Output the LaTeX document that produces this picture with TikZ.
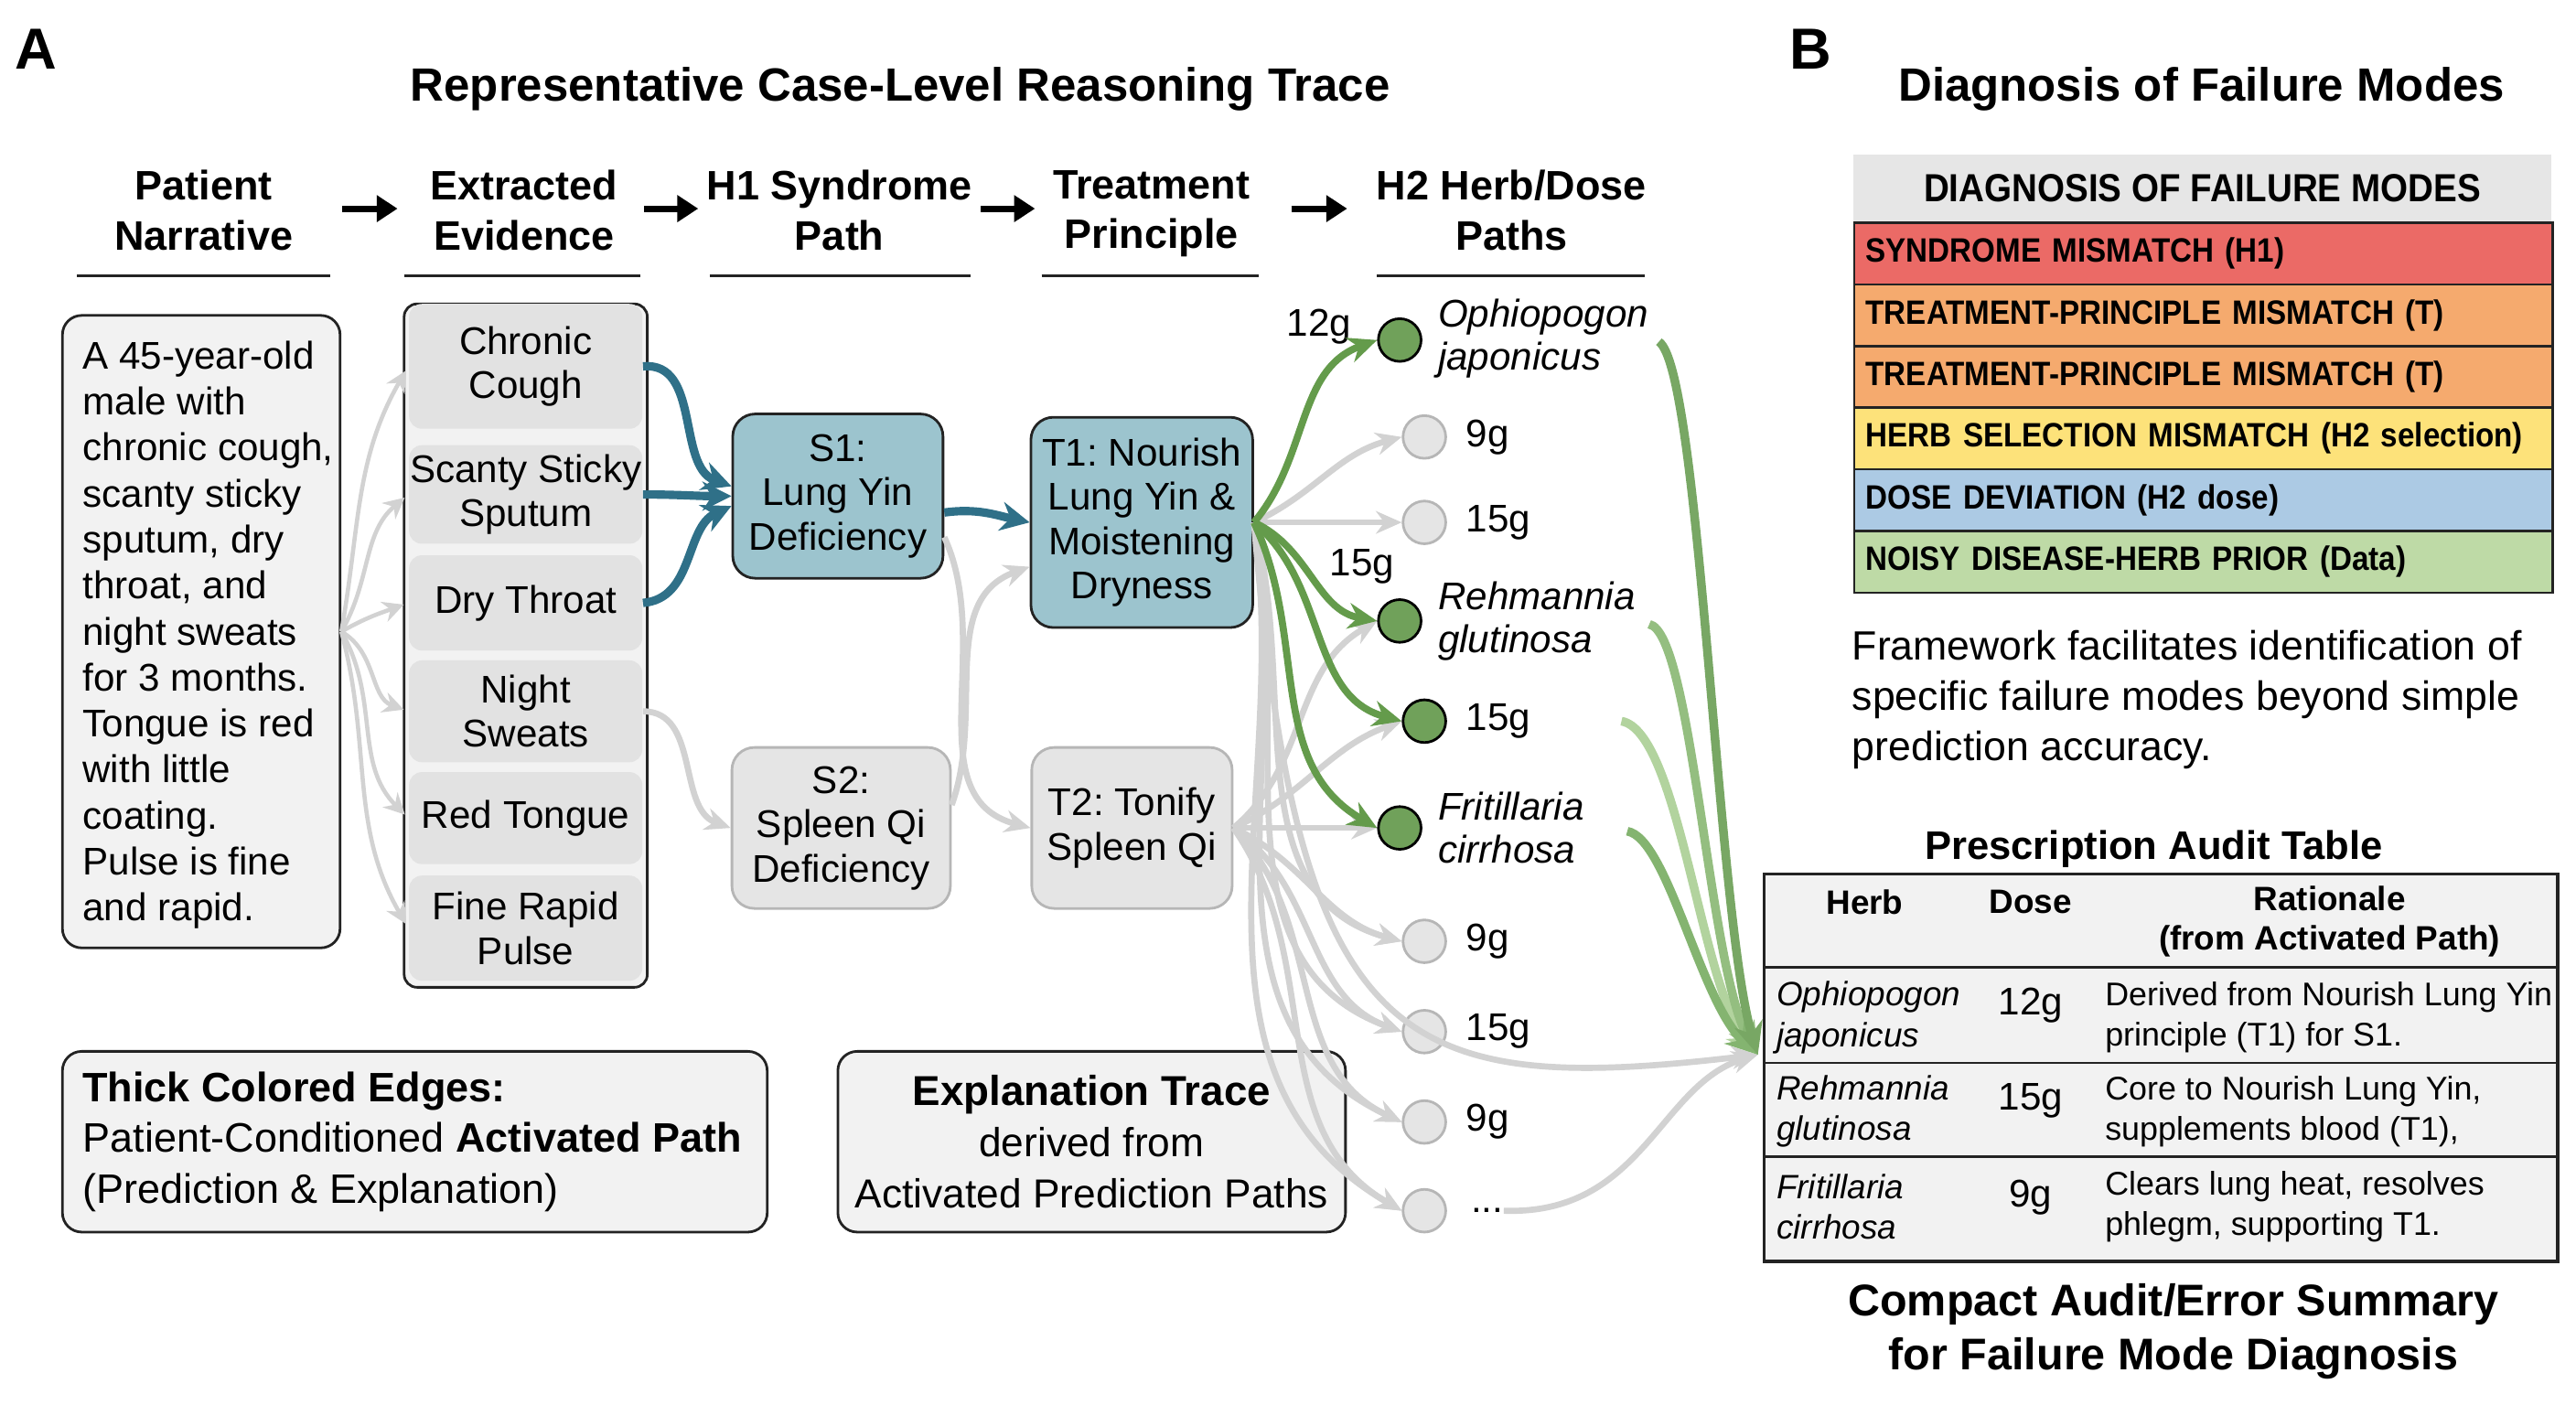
\documentclass[tikz,border=0pt]{standalone}
\usepackage{fontspec}
\setmainfont{Liberation Sans}
\newfontfamily\condfont[FakeStretch=0.9]{Liberation Sans}
\usetikzlibrary{arrows.meta,calc}
\frenchspacing
\definecolor{tealfill}{RGB}{156,196,206}
\definecolor{tealedge}{RGB}{47,112,136}
\definecolor{grayedge}{RGB}{210,210,210}
\definecolor{boxfill}{RGB}{242,242,242}
\definecolor{cellfill}{RGB}{226,226,226}
\definecolor{inactfill}{RGB}{229,229,229}
\definecolor{inactdraw}{RGB}{182,182,182}
\definecolor{darkline}{RGB}{35,35,35}
\definecolor{herbgreen}{RGB}{112,161,90}
\definecolor{edgegreen}{RGB}{100,155,75}
\definecolor{grnA}{RGB}{120,167,100}
\definecolor{grnB}{RGB}{148,190,128}
\definecolor{grnC}{RGB}{178,211,158}
\definecolor{grnD}{RGB}{132,180,112}
\definecolor{fmred}{RGB}{235,106,102}
\definecolor{fmorange}{RGB}{245,170,110}
\definecolor{fmyellow}{RGB}{253,226,122}
\definecolor{fmblue}{RGB}{172,202,228}
\definecolor{fmgreen}{RGB}{190,218,166}
\definecolor{fmhead}{RGB}{230,230,230}
\newcommand{\setfs}[2]{\fontsize{#1}{#2}\selectfont}
\def\myu{0.01796cm}
\tikzset{
  bigbox/.style={draw=darkline, line width=0.8pt, rounded corners=6pt, fill=boxfill, inner sep=0pt},
  evcell/.style={fill=cellfill, rounded corners=4pt, minimum width=142*\myu, align=center, font={\setfs{12}{13.8}}, inner sep=0pt},
  actbox/.style={draw=darkline, line width=0.8pt, rounded corners=7pt, fill=tealfill, align=center, font={\setfs{12}{13.8}}, inner sep=0pt},
  inactbox/.style={draw=inactdraw, line width=0.8pt, rounded corners=7pt, fill=inactfill, align=center, font={\setfs{12}{13.8}}, inner sep=0pt},
  hdr/.style={font={\bfseries\setfs{12.8}{15.5}}, align=center},
  hdrarrow/.style={-{Triangle[length=6.5pt,width=8pt]}, line width=2pt, draw=black},
  uline/.style={line width=0.7pt, draw=darkline},
  fanarrow/.style={draw=grayedge, line width=1.3pt, -{Stealth[length=6.5pt,width=6.5pt]}},
  tealarrow/.style={draw=tealedge, line width=2.6pt, -{Stealth[length=9pt,width=9pt]}},
  grayarrow/.style={draw=grayedge, line width=1.9pt, -{Stealth[length=8pt,width=7pt]}},
  greenarrow/.style={draw=edgegreen, line width=2.2pt, -{Stealth[length=9pt,width=8pt]}},
  auditarrow/.style={line width=2.7pt, -{Stealth[length=10pt,width=9pt]}},
  herbon/.style={circle, draw=black, line width=0.8pt, fill=herbgreen, minimum size=26*\myu, inner sep=0pt},
  herboff/.style={circle, draw=inactdraw, line width=0.8pt, fill=inactfill, minimum size=26*\myu, inner sep=0pt},
  herblab/.style={anchor=west, align=left, font={\itshape\setfs{12}{13.4}}, inner sep=0pt},
  gramlab/.style={anchor=west, font={\setfs{12}{13.4}}, inner sep=0pt},
  fmrow/.style={draw=darkline, line width=0.7pt, minimum width=425*\myu, minimum height=37.5*\myu, inner xsep=7*\myu, inner ysep=0pt, text width=411*\myu, align=left, anchor=north west, font={\condfont\bfseries\setfs{10.5}{12}}},
  audtxt/.style={anchor=west, align=left, font={\setfs{10.2}{12.6}}, inner sep=0pt},
  audherb/.style={anchor=west, align=left, font={\itshape\setfs{10.5}{12.6}}, inner sep=0pt},
  auddose/.style={font={\setfs{12}{13}}, inner sep=0pt},
}
\begin{document}
\begin{tikzpicture}[x=0.01796cm, y=-0.01796cm]
\fill[white] (0,0) rectangle (1568,855);
\useasboundingbox (0,0) rectangle (1568,855);

% ---------- Titles ----------
\node[font={\bfseries\setfs{18}{20}}] (labA) at (22,30) {A};
\node[font={\bfseries\setfs{14.5}{17}}] (titleA) at (548,54) {Representative Case-Level Reasoning Trace};
\node[font={\bfseries\setfs{18}{20}}] (labB) at (1102,30) {B};
\node[font={\bfseries\setfs{14.5}{17}}] (titleB) at (1340,54) {Diagnosis of Failure Modes};

% ---------- Column headers ----------
\node[hdr] (h1) at (124,128) {Patient\\Narrative};
\node[hdr] (h2) at (319,128) {Extracted\\Evidence};
\node[hdr] (h3) at (511,128) {H1 Syndrome\\Path};
\node[hdr] (h4) at (701,130) {Treatment\\Principle};
\node[hdr] (h5) at (920,128) {H2 Herb/Dose\\Paths};
\coordinate (a1s) at (208,127); \coordinate (a1e) at (242,127);
\coordinate (a2s) at (392,127); \coordinate (a2e) at (425,127);
\coordinate (a3s) at (597,127); \coordinate (a3e) at (630,127);
\coordinate (a4s) at (786,127); \coordinate (a4e) at (820,127);
\draw[hdrarrow] (a1s) -- (a1e);
\draw[hdrarrow] (a2s) -- (a2e);
\draw[hdrarrow] (a3s) -- (a3e);
\draw[hdrarrow] (a4s) -- (a4e);
\draw[uline] (47,168) -- (201,168);
\draw[uline] (246,168) -- (390,168);
\draw[uline] (432,168) -- (591,168);
\draw[uline] (634,168) -- (766,168);
\draw[uline] (838,168) -- (1001,168);

% ---------- Patient narrative ----------
\node[bigbox, minimum width=169*\myu, minimum height=385*\myu] (narr) at (122.5,384.5) {};
\node[anchor=west, align=left, font={\setfs{12}{14.3}}, inner sep=0pt] (narrtxt) at (50,386.5)
 {A 45-year-old\\male with\\chronic cough,\\scanty sticky\\sputum, dry\\throat, and\\night sweats\\for 3 months.\\Tongue is red\\with little\\coating.\\Pulse is fine\\and rapid.};

% ---------- Evidence ----------
\node[bigbox, rounded corners=4pt, fill=boxfill, minimum width=148*\myu, minimum height=416*\myu] (evbox) at (320,393) {};
\node[evcell, minimum height=76*\myu] (ev1) at (320,223) {Chronic\\Cough};
\node[evcell, minimum height=60*\myu] (ev2) at (320,301) {Scanty Sticky\\Sputum};
\node[evcell, minimum height=58*\myu] (ev3) at (320,367) {Dry Throat};
\node[evcell, minimum height=62*\myu] (ev4) at (320,433) {Night\\Sweats};
\node[evcell, minimum height=56*\myu] (ev5) at (320,498) {Red Tongue};
\node[evcell, minimum height=64*\myu] (ev6) at (320,565) {Fine Rapid\\Pulse};

% ---------- Syndrome / principle boxes ----------
\node[actbox, minimum width=128*\myu, minimum height=100*\myu] (S1) at (510,302) {S1:\\Lung Yin\\Deficiency};
\node[inactbox, minimum width=133*\myu, minimum height=98*\myu] (S2) at (512,504) {S2:\\Spleen Qi\\Deficiency};
\node[actbox, minimum width=135*\myu, minimum height=128*\myu] (T1) at (695,318) {T1: Nourish\\Lung Yin \&\\Moistening\\Dryness};
\node[inactbox, minimum width=122*\myu, minimum height=98*\myu] (T2) at (689,504) {T2: Tonify\\Spleen Qi};

% ---------- Herb / dose nodes ----------
\node[herbon] (oph) at (852,207) {};
\node[herblab] (ophlab) at (875,206) {Ophiopogon\\japonicus};
\node[herboff] (g9a) at (867,266) {};
\node[gramlab] (g9alab) at (892,266) {9g};
\node[herboff] (g15a) at (867,318) {};
\node[gramlab] (g15alab) at (892,318) {15g};
\node[herbon] (rehm) at (852,378) {};
\node[herblab] (rehmlab) at (875,378) {Rehmannia\\glutinosa};
\node[herbon] (g15b) at (867,439) {};
\node[gramlab] (g15blab) at (892,439) {15g};
\node[herbon] (frit) at (852,504) {};
\node[herblab] (fritlab) at (875,504) {Fritillaria\\cirrhosa};
\node[herboff] (g9b) at (867,573) {};
\node[gramlab] (g9blab) at (892,573) {9g};
\node[herboff] (g15c) at (867,628) {};
\node[gramlab] (g15clab) at (892,628) {15g};
\node[herboff] (g9c) at (867,683) {};
\node[gramlab] (g9clab) at (892,683) {9g};
\node[herboff] (gdots) at (867,737) {};
\node[gramlab] (gdotslab) at (895,737) {...};
\node[font={\setfs{12}{13}}] (lab12) at (803,199) {12g};
\node[font={\setfs{12}{13}}] (lab15) at (829,345) {15g};

% ---------- Bottom-left boxes ----------
\node[bigbox, minimum width=429*\myu, minimum height=110*\myu] (legend) at (252.5,695) {};
\node[anchor=west, align=left, font={\setfs{12.8}{15.8}}, inner sep=0pt] (legendtxt) at (50,695)
 {\textbf{Thick Colored Edges:}\\Patient-Conditioned \textbf{Activated Path}\\(Prediction \& Explanation)};
\node[bigbox, minimum width=309*\myu, minimum height=110*\myu, align=center, font={\setfs{12.6}{15.8}}] (explbox) at (664.5,695)
 {{\bfseries\setfs{13}{15.8}Explanation Trace}\\derived from\\Activated Prediction Paths};

% ---------- Panel B: failure modes ----------
\node[fill=fmhead, minimum width=425*\myu, minimum height=41*\myu, inner sep=0pt, font={\condfont\bfseries\setfs{12.2}{13.5}}] (fmh) at (1340.5,114.5) {DIAGNOSIS OF FAILURE MODES};
\node[fmrow, fill=fmred] (fm1) at (1128,135) {SYNDROME MISMATCH (H1)};
\node[fmrow, fill=fmorange] (fm2) at (1128,172.5) {TREATMENT-PRINCIPLE MISMATCH (T)};
\node[fmrow, fill=fmorange] (fm3) at (1128,210) {TREATMENT-PRINCIPLE MISMATCH (T)};
\node[fmrow, fill=fmyellow] (fm4) at (1128,247.5) {HERB SELECTION MISMATCH (H2 selection)};
\node[fmrow, fill=fmblue] (fm5) at (1128,285) {DOSE DEVIATION (H2 dose)};
\node[fmrow, fill=fmgreen] (fm6) at (1128,322.5) {NOISY DISEASE-HERB PRIOR (Data)};

\node[anchor=west, align=left, font={\setfs{12.7}{15.6}}, inner sep=0pt] (frame) at (1127,426)
 {Framework facilitates identification of\\specific failure modes beyond simple\\prediction accuracy.};

% ---------- Audit table ----------
\node[font={\bfseries\setfs{12.4}{14}}] (audtitle) at (1311,517) {Prescription Audit Table};
\node[draw=darkline, line width=0.9pt, fill=boxfill, minimum width=483*\myu, minimum height=236*\myu, anchor=north west, inner sep=0pt] (audit) at (1073,531) {};
\draw[line width=0.8pt, darkline] (1073,589) -- (1556,589);
\draw[line width=0.8pt, darkline] (1073,647) -- (1556,647);
\draw[line width=0.8pt, darkline] (1073,704) -- (1556,704);
\node[font={\bfseries\setfs{10.5}{12.3}}] (thherb) at (1135,549) {Herb};
\node[font={\bfseries\setfs{10.5}{12.3}}] (thdose) at (1236,549) {Dose};
\node[font={\bfseries\setfs{10.5}{12.3}}, align=center] (thrat) at (1418,561) {Rationale\\(from Activated Path)};
\node[audherb] (r1h) at (1081,619.5) {Ophiopogon\\japonicus};
\node[auddose] (r1d) at (1236,612) {12g};
\node[audtxt] (r1r) at (1281,619.5) {Derived from Nourish Lung Yin\\principle (T1) for S1.};
\node[audherb] (r2h) at (1081,676.5) {Rehmannia\\glutinosa};
\node[auddose] (r2d) at (1236,670) {15g};
\node[audtxt] (r2r) at (1281,676.5) {Core to Nourish Lung Yin,\\supplements blood (T1),};
\node[audherb] (r3h) at (1081,734.5) {Fritillaria\\cirrhosa};
\node[auddose] (r3d) at (1236,729) {9g};
\node[audtxt] (r3r) at (1281,734.5) {Clears lung heat, resolves\\phlegm, supporting T1.};
\node[font={\bfseries\setfs{13.8}{16.9}}, align=center] (summary) at (1323,810.5) {Compact Audit/Error Summary\\for Failure Mode Diagnosis};
\coordinate (audin) at (1070,642);

% ---------- Edges: narrative fan ----------
\draw[fanarrow, shorten >=3*\myu] (narr.east) to[out=80,in=240] (ev1.west);
\draw[fanarrow, shorten >=3*\myu] (narr.east) to[out=60,in=220] (ev2.west);
\draw[fanarrow, shorten >=3*\myu] (narr.east) to[out=30,in=200] (ev3.west);
\draw[fanarrow, shorten >=3*\myu] (narr.east) to[out=-30,in=160] (ev4.west);
\draw[fanarrow, shorten >=3*\myu] (narr.east) to[out=-60,in=135] (ev5.west);
\draw[fanarrow, shorten >=3*\myu] (narr.east) to[out=-75,in=120] (ev6.west);

% ---------- Gray inactive edges ----------
\draw[grayarrow] (ev4.east) to[out=0,in=160] (S2.west);
\draw[grayarrow] ($(S1.east)+(0,25)$) to[out=-65,in=165] (T2.west);
\draw[grayarrow] ($(S2.east)+(0,-14)$) to[out=70,in=200] ($(T1.west)+(0,27)$);

\draw[grayarrow] (T1.east) to[out=25,in=195] (g9a.west);
\draw[grayarrow] (T1.east) to[out=0,in=180] (g15a.west);
\draw[grayarrow] (T1.east) to[out=-75,in=165] (g9b.west);
\draw[grayarrow] (T1.east) to[out=-78,in=160] (g15c.west);
\draw[grayarrow] (T1.east) to[out=-80,in=155] (g9c.west);
\draw[grayarrow] (T1.east) to[out=-82,in=150] (gdots.west);

\draw[grayarrow] (T2.east) to[out=40,in=210] (rehm.west);
\draw[grayarrow] (T2.east) to[out=25,in=200] (g15b.west);
\draw[grayarrow] (T2.east) to[out=0,in=180] (frit.west);
\draw[grayarrow] (T2.east) to[out=-25,in=165] (g9b.west);
\draw[grayarrow] (T2.east) to[out=-35,in=160] (g15c.west);
\draw[grayarrow] (T2.east) to[out=-45,in=155] (g9c.west);
\draw[grayarrow] (T2.east) to[out=-55,in=150] (gdots.west);

\draw[grayarrow] (T1.east) .. controls (790,640) and (850,668) .. (audin);
\draw[grayarrow] (gdotslab.east) .. controls (1000,740) and (1010,660) .. (audin);

% ---------- Green active edges ----------
\draw[greenarrow] (T1.east) to[out=50,in=200] (oph.west);
\draw[greenarrow] (T1.east) to[out=-25,in=170] (rehm.west);
\draw[greenarrow] (T1.east) to[out=-40,in=165] (g15b.west);
\draw[greenarrow] (T1.east) to[out=-65,in=150] (frit.west);

\draw[auditarrow, draw=grnC] ($(g15blab.east)+(55,0)$) .. controls (1022,445) and (1035,600) .. (audin);
\draw[auditarrow, draw=grnB] ($(rehmlab.east)+(8,2)$) .. controls (1030,385) and (1040,590) .. (audin);
\draw[auditarrow, draw=grnD] ($(fritlab.east)+(26,2)$) .. controls (1015,510) and (1035,610) .. (audin);
\draw[auditarrow, draw=grnA] ($(ophlab.east)+(6,2)$) .. controls (1035,225) and (1045,560) .. (audin);

% ---------- Teal active edges ----------
\draw[tealarrow] (ev1.east) to[out=5,in=160] ($(S1.west)+(0,-6)$);
\draw[tealarrow] (ev2.east) to[out=0,in=180] (S1.west);
\draw[tealarrow] (ev3.east) to[out=5,in=205] ($(S1.west)+(0,6)$);
\draw[tealarrow] ($(S1.east)+(0,10)$) to[out=8,in=168] (T1.west);
\end{tikzpicture}
\end{document}
